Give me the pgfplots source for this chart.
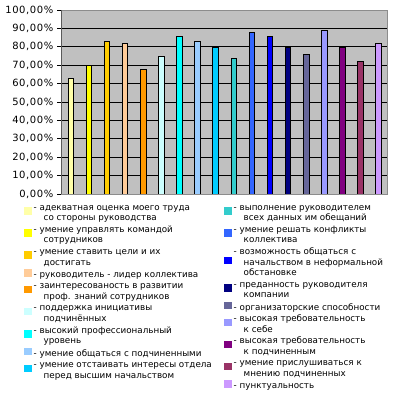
\documentclass[border=0pt]{standalone}
\usepackage{fontspec}
\setmainfont{DejaVu Sans}
\usepackage{pgfplots}
\pgfplotsset{compat=1.18}
\definecolor{c1}{HTML}{FFFFA8}
\definecolor{c2}{HTML}{FFFF00}
\definecolor{c3}{HTML}{FFCC00}
\definecolor{c4}{HTML}{FFCC99}
\definecolor{c5}{HTML}{FF9900}
\definecolor{c6}{HTML}{CCFFFF}
\definecolor{c7}{HTML}{00FFFF}
\definecolor{c8}{HTML}{99CCFF}
\definecolor{c9}{HTML}{00CCFF}
\definecolor{c10}{HTML}{33CCCC}
\definecolor{c11}{HTML}{3366FF}
\definecolor{c12}{HTML}{0000FF}
\definecolor{c13}{HTML}{000080}
\definecolor{c14}{HTML}{666699}
\definecolor{c15}{HTML}{9999FF}
\definecolor{c16}{HTML}{800080}
\definecolor{c17}{HTML}{993366}
\definecolor{c18}{HTML}{CC99FF}
\definecolor{plotbg}{HTML}{C0C0C0}
\newcommand{\ent}[1]{\begin{tabular}[t]{@{}l@{}}#1\end{tabular}}
\newcommand{\ind}{\hspace*{10bp}}
\pgfplotsset{
  mybar/.style={ybar, bar width=5.5bp, bar shift=0pt, draw=black, line width=0.5pt, fill=#1},
  common/.style={
    scale only axis, width=326bp, height=184bp,
    anchor=south west, at={(61.5bp,206bp)},
    xmin=0.5, xmax=18.5, ymin=0, ymax=100,
    legend image code/.code={\fill[##1,/tikz/.cd,draw=none] (0bp,-1.3bp) rectangle (7.5bp,6.2bp);},
    legend cell align=left,
    legend style={draw=none, fill=none, inner sep=0pt, row sep=0.8bp,
      font=\fontsize{8.8}{10.7}\selectfont\color{black},
      anchor=north west,
      nodes={inner xsep=2bp, inner ysep=0pt, text depth=}},
  },
}
\begin{document}
\begin{tikzpicture}
\useasboundingbox (0,0) rectangle (396bp,400bp);
\begin{axis}[common,
  axis background/.style={fill=plotbg},
  axis line style={draw=black!45, line width=0.8pt},
  xtick=\empty,
  ytick={0,10,...,100},
  yticklabels={{0,00\%},{10,00\%},{20,00\%},{30,00\%},{40,00\%},{50,00\%},{60,00\%},{70,00\%},{80,00\%},{90,00\%},{100,00\%}},
  ymajorgrids, major grid style={black, line width=0.8pt},
  ytick pos=left, tick align=outside, major tick length=4bp,
  tick style={black, line width=0.8pt},
  yticklabel style={font=\fontsize{10}{12}\selectfont\addfontfeatures{LetterSpace=6}, inner sep=0bp},
  yticklabel shift=4bp,
  legend style={at={(-0.115,-0.046)}},
]
\addplot[mybar=c1] coordinates {(1,63)}; \addlegendentry{\ent{- адекватная оценка моего труда\\\ind со стороны руководства}}
\addplot[mybar=c2] coordinates {(2,70)}; \addlegendentry{\ent{- умение управлять командой\\\ind сотрудников}}
\addplot[mybar=c3] coordinates {(3,83)}; \addlegendentry{\ent{- умение ставить цели и их\\\ind достигать}}
\addplot[mybar=c4] coordinates {(4,82)}; \addlegendentry{\ent{- руководитель - лидер коллектива}}
\addplot[mybar=c5] coordinates {(5,68)}; \addlegendentry{\ent{- заинтересованость в развитии\\\ind проф. знаний сотрудников}}
\addplot[mybar=c6] coordinates {(6,75)}; \addlegendentry{\ent{- поддержка инициативы\\\ind подчинённых}}
\addplot[mybar=c7] coordinates {(7,86)}; \addlegendentry{\ent{- высокий профессиональный\\\ind уровень}}
\addplot[mybar=c8] coordinates {(8,83)}; \addlegendentry{\ent{- умение общаться с подчиненными}}
\addplot[mybar=c9] coordinates {(9,80)}; \addlegendentry{\ent{- умение отстаивать интересы отдела\\\ind перед высшим начальством}}
\draw[black, line width=0.8pt] (rel axis cs:0,0) -- (rel axis cs:0,1);
\end{axis}
\begin{axis}[common, hide axis,
  legend style={at={(0.4985,-0.046)}},
]
\addplot[mybar=c10] coordinates {(10,74)}; \addlegendentry{\ent{- выполнение руководителем\\\ind всех данных им обещаний}}
\addplot[mybar=c11] coordinates {(11,88)}; \addlegendentry{\ent{- умение решать конфликты\\\ind коллектива}}
\addplot[mybar=c12] coordinates {(12,86)}; \addlegendentry{\ent{- возможность общаться с\\\ind начальством в неформальной\\\ind обстановке}}
\addplot[mybar=c13] coordinates {(13,80)}; \addlegendentry{\ent{- преданность руководителя\\\ind компании}}
\addplot[mybar=c14] coordinates {(14,76)}; \addlegendentry{\ent{- организаторские способности}}
\addplot[mybar=c15] coordinates {(15,89)}; \addlegendentry{\ent{- высокая требовательность\\\ind к себе}}
\addplot[mybar=c16] coordinates {(16,80)}; \addlegendentry{\ent{- высокая требовательность\\\ind к подчиненным}}
\addplot[mybar=c17] coordinates {(17,72)}; \addlegendentry{\ent{- умение прислушиваться к\\\ind мнению подчиненных}}
\addplot[mybar=c18] coordinates {(18,82)}; \addlegendentry{\ent{- пунктуальность}}
\end{axis}
\end{tikzpicture}
\end{document}
